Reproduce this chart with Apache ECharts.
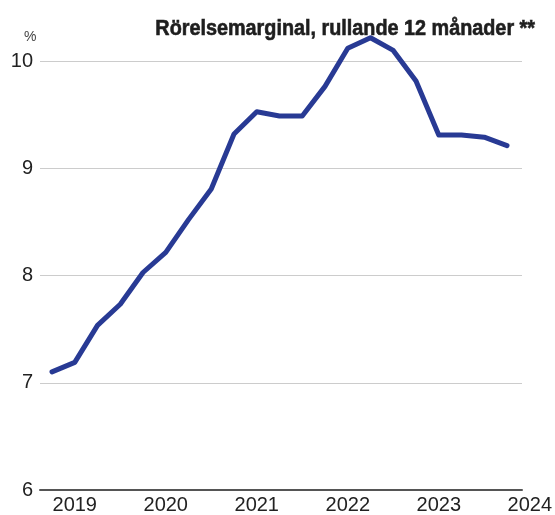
<!DOCTYPE html>
<html><head><meta charset="utf-8">
<script src="https://cdn.jsdelivr.net/npm/echarts@6/dist/echarts.min.js"></script>
<style>html,body{margin:0;padding:0;background:#fff}#c{width:555px;height:515px}</style>
</head><body><div id="c"></div>
<script>
var quarters = ["2018Q4","2019Q1","2019Q2","2019Q3","2019Q4","2020Q1","2020Q2","2020Q3","2020Q4","2021Q1","2021Q2","2021Q3","2021Q4","2022Q1","2022Q2","2022Q3","2022Q4","2023Q1","2023Q2","2023Q3","2023Q4","2024Q1"];
var margin = [7.06,7.15,7.50,7.70,8.00,8.19,8.50,8.79,9.31,9.52,9.48,9.48,9.76,10.12,10.22,10.10,9.81,9.30,9.30,9.28,9.20];
var yTicks = [6,7,8,9,10];
var titleText = "Rörelsemarginal, rullande 12 månader **";
var unitText = "%";

var chart = echarts.init(document.getElementById('c'), null, {renderer:'canvas'});
chart.setOption({
  animation:false,
  backgroundColor:'#fff',
  graphic:[
    {type:'text', x:535, y:29, scaleX:0.9, originX:0, originY:0, z:100,
     style:{text:titleText, align:'right', verticalAlign:'middle', fontFamily:'Liberation Sans', fontWeight:'bold', fontSize:22, fill:'#1e1e1e', stroke:'#1e1e1e', lineWidth:0.6}},
    {type:'text', left:24, top:30, style:{text:unitText, fontFamily:'Liberation Sans', fontSize:14, fill:'#444'}}
  ],
  grid:[
    {left:40, right:33, top:61, bottom:25, containLabel:false},
    {left:52, right:24, top:61, bottom:25, containLabel:false}
  ],
  xAxis:[
    {gridIndex:0, type:'value', min:0, max:1, axisLabel:{show:false}, axisTick:{show:false}, splitLine:{show:false},
     axisLine:{show:true, lineStyle:{color:'#555', width:2}}},
    {gridIndex:1, type:'category', data:quarters, boundaryGap:false,
     axisLine:{show:false}, axisTick:{show:false}, splitLine:{show:false},
     axisLabel:{interval:function(i,v){return v.slice(4)==='Q1';}, formatter:function(v){return v.slice(0,4);}, margin:11,
       fontFamily:'Liberation Sans', fontSize:20, color:'#222'}}
  ],
  yAxis:[
    {gridIndex:0, type:'value', min:yTicks[0], max:yTicks[yTicks.length-1], interval:1,
     axisLine:{show:false}, axisTick:{show:false},
     axisLabel:{margin:7, fontFamily:'Liberation Sans', fontSize:20, color:'#222'},
     splitLine:{show:true, lineStyle:{color:'#cccccc', width:1}}},
    {gridIndex:1, type:'value', min:yTicks[0], max:yTicks[yTicks.length-1], show:false, splitLine:{show:false}}
  ],
  series:[{type:'line', xAxisIndex:1, yAxisIndex:1, data:margin, showSymbol:false, symbol:'none', clip:false,
    lineStyle:{color:'#283a94', width:5, cap:'round', join:'round'}}]
});
</script></body></html>
